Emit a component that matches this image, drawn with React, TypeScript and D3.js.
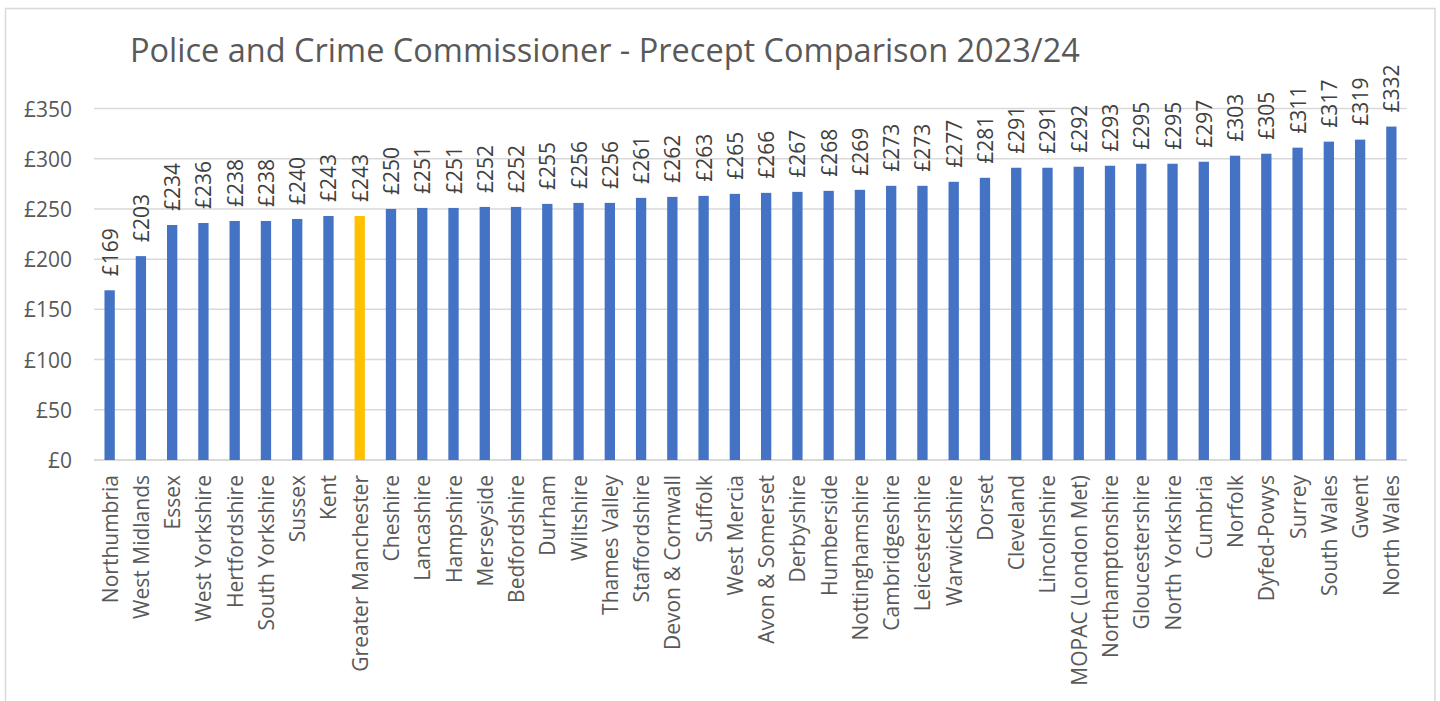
import React from "react";
import * as d3 from "d3";

const categories: string[] = [
  "Northumbria", "West Midlands", "Essex", "West Yorkshire", "Hertfordshire", "South Yorkshire",
  "Sussex", "Kent", "Greater Manchester", "Cheshire", "Lancashire", "Hampshire", "Merseyside",
  "Bedfordshire", "Durham", "Wiltshire", "Thames Valley", "Staffordshire", "Devon & Cornwall",
  "Suffolk", "West Mercia", "Avon & Somerset", "Derbyshire", "Humberside", "Nottinghamshire",
  "Cambridgeshire", "Leicestershire", "Warwickshire", "Dorset", "Cleveland", "Lincolnshire",
  "MOPAC (London Met)", "Northamptonshire", "Gloucestershire", "North Yorkshire", "Cumbria",
  "Norfolk", "Dyfed-Powys", "Surrey", "South Wales", "Gwent", "North Wales",
];

const values: number[] = [
  169, 203, 234, 236, 238, 238, 240, 243, 243, 250, 251, 251, 252, 252, 255, 256, 256, 261, 262,
  263, 265, 266, 267, 268, 269, 273, 273, 277, 281, 291, 291, 292, 293, 295, 295, 297, 303, 305,
  311, 317, 319, 332,
];

const highlighted: string[] = ["Greater Manchester"];

const yTicks: number[] = [0, 50, 100, 150, 200, 250, 300, 350];

const title = "Police and Crime Commissioner - Precept Comparison 2023/24";

const W = 1440;
const H = 701;
const plot = { left: 94, right: 1407, top: 108.5, bottom: 460 };
const FONT = "'Open Sans', sans-serif";

export default function App() {
  const x = d3
    .scaleBand<string>()
    .domain(categories)
    .range([plot.left, plot.right])
    .paddingInner(0.67)
    .paddingOuter(0.335);
  const y = d3.scaleLinear().domain([0, 350]).range([plot.bottom, plot.top]);
  const fmt = (v: number) => `£${d3.format(",")(v)}`;

  return (
    <svg
      width={W}
      height={H}
      style={{ position: "absolute", left: 0, top: 0, background: "#fff" }}
      fontFamily={FONT}
    >
      <rect x={5.5} y={8.5} width={1429.5} height={720} fill="#fff" stroke="#D9D9D9" strokeWidth={1.5} />
      <text x={130} y={62} fontSize={32.5} fill="#595959">
        {title}
      </text>
      {yTicks.map((t) => (
        <g key={t}>
          <line
            x1={plot.left}
            x2={plot.right}
            y1={y(t)}
            y2={y(t)}
            stroke="#D9D9D9"
            strokeWidth={t === 0 ? 2 : 1.5}
          />
          <text
            x={72}
            y={y(t)}
            textAnchor="end"
            dominantBaseline="central"
            fontSize={21}
            fill="#595959"
          >
            {fmt(t)}
          </text>
        </g>
      ))}
      {categories.map((c, i) => {
        const bx = x(c)!;
        const cx = bx + x.bandwidth() / 2;
        const v = values[i];
        return (
          <g key={c}>
            <rect
              x={bx}
              y={y(v)}
              width={x.bandwidth()}
              height={y(0) - y(v)}
              fill={highlighted.includes(c) ? "#FFC000" : "#4472C4"}
            />
            <text
              transform={`translate(${cx},${y(v) - 14}) rotate(-90)`}
              textAnchor="start"
              dominantBaseline="central"
              fontSize={21}
              fill="#404040"
            >
              {fmt(v)}
            </text>
            <text
              transform={`translate(${cx},${475}) rotate(-90)`}
              textAnchor="end"
              dominantBaseline="central"
              fontSize={21}
              fill="#595959"
            >
              {c}
            </text>
          </g>
        );
      })}
    </svg>
  );
}
